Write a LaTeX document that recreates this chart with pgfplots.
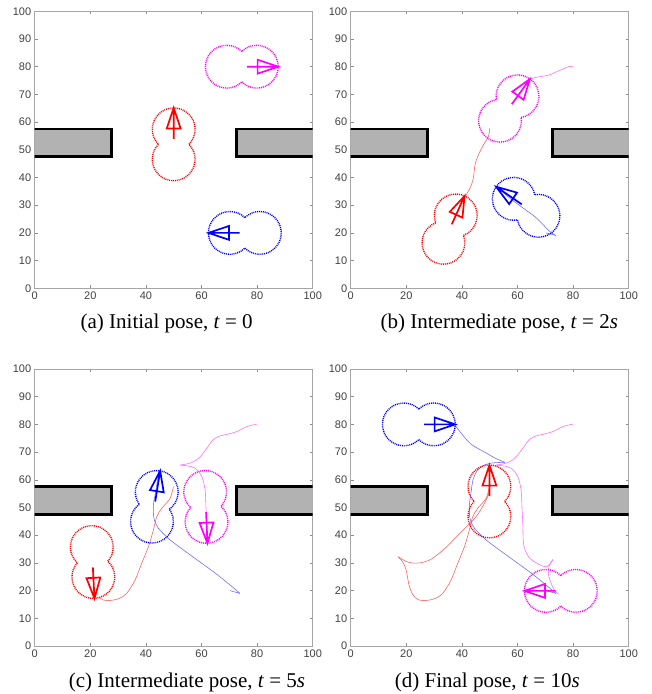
\documentclass[border=0pt]{standalone}
\usepackage{pgfplots}
\pgfplotsset{compat=1.18}
\usepackage{fontspec}
\setmainfont{Liberation Serif}
\newfontfamily\ticksfont{Liberation Sans}
\definecolor{rred}{rgb}{1,0,0}
\definecolor{rblue}{rgb}{0,0,1}
\definecolor{rmag}{rgb}{1,0,1}

% robot outline: two overlapping circles (union outline, dotted) and a heading arrow;
% origin = centre of the front circle, heading along +x
\pgfdeclareplotmark{robot}{%
  \pgfsetlinewidth{1.4pt}%
  \pgfsetdash{{1.0pt}{0.9pt}}{0pt}%
  \pgfpathmoveto{\pgfpointpolar{-134.5}{21.4pt}}%
  \pgfpatharc{-134.5}{134.5}{21.4pt}%
  \pgfpathmoveto{\pgfpointadd{\pgfpoint{-30.0pt}{0pt}}{\pgfpointpolar{45.5}{21.4pt}}}%
  \pgfpatharc{45.5}{314.5}{21.4pt}%
  \pgfusepathqstroke
  \pgfsetdash{}{0pt}%
  \pgfsetlinewidth{1.7pt}%
  \pgfpathmoveto{\pgfpoint{-9.7pt}{0pt}}%
  \pgfpathlineto{\pgfpoint{21.4pt}{0pt}}%
  \pgfpathmoveto{\pgfpoint{21.4pt}{0pt}}%
  \pgfpathlineto{\pgfpoint{0.8pt}{6.95pt}}%
  \pgfpathlineto{\pgfpoint{0.8pt}{-6.95pt}}%
  \pgfpathclose
  \pgfusepathqstroke
}

\pgfplotsset{
  panel/.style={
    scale only axis, width=278pt, height=277pt,
    xmin=0, xmax=100, ymin=0, ymax=100,
    xtick={0,20,...,100}, ytick={0,10,...,100},
    tick align=inside, major tick length=3pt,
    axis line style={draw=black!35, line width=0.6pt},
    major tick style={black!45, line width=0.5pt},
    tick label style={font=\ticksfont\fontsize{11}{12}\selectfont, text=black!75},
    /pgf/number format/assume math mode=true,
    anchor=south west,
  },
  traj/.style={line width=0.55pt, smooth, tension=0.5, mark=none},
  rtraj/.style={traj, draw=rred!65!white},
  btraj/.style={traj, draw=rblue!60!white},
  mtraj/.style={traj, draw=rmag!60!white},
  obst/.style={fill=black!30, draw=black, line width=2.7pt, mark=none},
  rob/.style={only marks, mark=robot, mark options={rotate=#1}},
}

\newcommand{\obstacles}{%
  \addplot[obst] coordinates {(-5,47.5) (27.5,47.5) (27.5,57.5) (-5,57.5) (-5,47.5)};
  \addplot[obst] coordinates {(105,47.5) (72.5,47.5) (72.5,57.5) (105,57.5) (105,47.5)};
}

\begin{document}
\begin{tikzpicture}
\useasboundingbox (0pt,0pt) rectangle (652pt,694pt);

% ---------------- (a) ----------------
\begin{axis}[panel, at={(34.7pt,405.7pt)}]
\obstacles
\addplot[rred, rob=90] coordinates {(50,57.4)};
\addplot[rmag, rob=0] coordinates {(79.9,80)};
\addplot[rblue, rob=180] coordinates {(70.2,20)};
\end{axis}

% ---------------- (b) ----------------
\begin{axis}[panel, at={(350.7pt,405.7pt)}]
\obstacles
\addplot[rtraj] coordinates {(50.0,57.7) (49.5,54.7) (47.7,51.7) (45.9,48.1) (44.7,44.5) (44.1,39.7) (42.9,36.1) (41.1,33.1)};
\addplot[mtraj] coordinates {(79.9,80.1) (78.3,80.0) (76.0,79.0) (74.1,78.2) (72.0,77.2) (70.5,76.8) (68.1,76.4) (66.0,76.0) (64.5,75.5)};
\addplot[btraj, sharp plot] coordinates {(70.2,20.0) (73.8,19.1)};
\addplot[btraj] coordinates {(73.8,19.1) (71.7,20.4) (66.9,25.3) (62.1,28.9) (57.3,32.5) (52.4,36.7)};
\addplot[rred, rob=65.7] coordinates {(37.8,26.3)};
\addplot[rmag, rob=54.3] coordinates {(60.0,69.3)};
\addplot[rblue, rob=145.5] coordinates {(58.65,32.3)};
\end{axis}

% ---------------- (c) ----------------
\begin{axis}[panel, at={(34.7pt,48pt)}]
\obstacles
\addplot[rtraj] coordinates {(49.9,57.5) (48.7,53.3) (45.7,49.7) (43.9,46.7) (42.7,41.9) (40.9,35.8) (38.5,29.9) (36.1,23.8) (33.1,19.0) (30.5,17.2) (28.3,16.6) (26.5,16.4) (24.7,16.6) (23.3,17.4)};
\addplot[btraj, sharp plot] coordinates {(70.2,20.0) (73.8,19.0)};
\addplot[btraj] coordinates {(73.8,19.0) (70.3,22.0) (64.3,26.8) (55.9,32.9) (48.7,38.3) (44.5,42.5) (42.9,46.1) (42.7,50.9) (43.3,54.5) (43.9,58.1) (44.8,62.9)};
\addplot[mtraj] coordinates {(79.9,80.1) (76.3,79.2) (72.7,77.4) (69.1,76.4) (66.5,75.8) (64.2,74.5) (62.2,71.8) (60.1,69.0) (58.0,67.0) (55.5,65.9) (52.3,65.3)};
\addplot[mtraj] coordinates {(52.3,65.3) (55.0,65.0) (57.7,64.2) (60.1,61.2) (61.3,56.3) (61.6,50.3) (61.9,44.3) (62.1,37.7)};
\addplot[rred, rob=273] coordinates {(21.1,24.9)};
\addplot[rblue, rob=80.8] coordinates {(43.9,55.6)};
\addplot[rmag, rob=272.5] coordinates {(61.8,44.8)};
\end{axis}

% ---------------- (d) ----------------
\begin{axis}[panel, at={(350.7pt,48pt)}]
\obstacles
\addplot[rtraj] coordinates {(49.9,57.5) (48.7,53.3) (45.7,49.7) (43.9,46.7) (42.7,41.9) (40.9,35.8) (38.5,29.9) (36.1,23.8) (33.1,19.0) (30.5,17.2) (28.3,16.6) (26.5,16.4) (24.7,16.6) (23.3,17.4)};
\addplot[rtraj] coordinates {(23.3,17.4) (22.2,18.8) (21.1,21.5) (20.5,24.5) (19.9,27.6) (18.8,30.2) (17.1,32.2)};
\addplot[rtraj] coordinates {(17.1,32.2) (19.8,30.6) (22.5,29.9) (25.5,30.1) (28.5,31.1) (31.5,33.2) (34.5,35.8) (37.5,38.9) (40.5,41.9) (43.2,44.6) (45.5,47.2) (47.6,50.6) (49.5,54.5) (49.9,58.0)};
\addplot[btraj, sharp plot] coordinates {(70.2,20.0) (73.8,19.0)};
\addplot[btraj] coordinates {(73.8,19.0) (70.3,22.0) (64.3,26.8) (55.9,32.9) (48.7,38.3) (44.5,42.5) (42.9,46.1) (42.7,50.9) (43.3,55.5) (44.0,60.0) (45.5,63.3) (47.8,65.2) (51.1,66.1) (55.5,66.3)};
\addplot[btraj] coordinates {(55.5,66.3) (52.0,67.8) (48.9,69.6) (42.9,73.2) (37.6,79.6)};
\addplot[mtraj] coordinates {(79.9,80.1) (76.3,79.2) (72.7,77.4) (69.1,76.4) (66.5,75.8) (64.2,74.5) (62.2,71.8) (60.1,69.0) (58.0,67.0) (55.5,65.9) (52.3,65.3)};
\addplot[mtraj] coordinates {(52.3,65.3) (55.0,65.0) (57.7,64.2) (60.1,61.2) (61.3,56.3) (61.6,50.3) (61.9,44.3) (62.1,37.7) (62.8,34.5) (64.2,31.9) (66.9,29.9) (70.5,28.6) (72.7,31.2)};
\addplot[mtraj] coordinates {(72.7,31.2) (71.3,28.5) (71.1,26.0) (71.7,23.8) (72.9,20.8) (74.1,19.2) (75.1,18.7)};
\addplot[rblue, rob=0] coordinates {(29.9,80)};
\addplot[rred, rob=90] coordinates {(49.9,57.6)};
\addplot[rmag, rob=180] coordinates {(70.2,19.9)};
\end{axis}

% ---------------- captions ----------------
\node[anchor=base, font=\fontsize{21}{24}\selectfont] at (166.7pt,365.7pt) {(a) Initial pose, \textit{t} = 0};
\node[anchor=base, font=\fontsize{21}{24}\selectfont] at (499.3pt,365.7pt) {(b) Intermediate pose, \textit{t} = 2\textit{s}};
\node[anchor=base, font=\fontsize{21}{24}\selectfont] at (187pt,6.3pt) {(c) Intermediate pose, \textit{t} = 5\textit{s}};
\node[anchor=base, font=\fontsize{21}{24}\selectfont] at (487.3pt,6.3pt) {(d) Final pose, \textit{t} = 10\textit{s}};
\end{tikzpicture}
\end{document}
